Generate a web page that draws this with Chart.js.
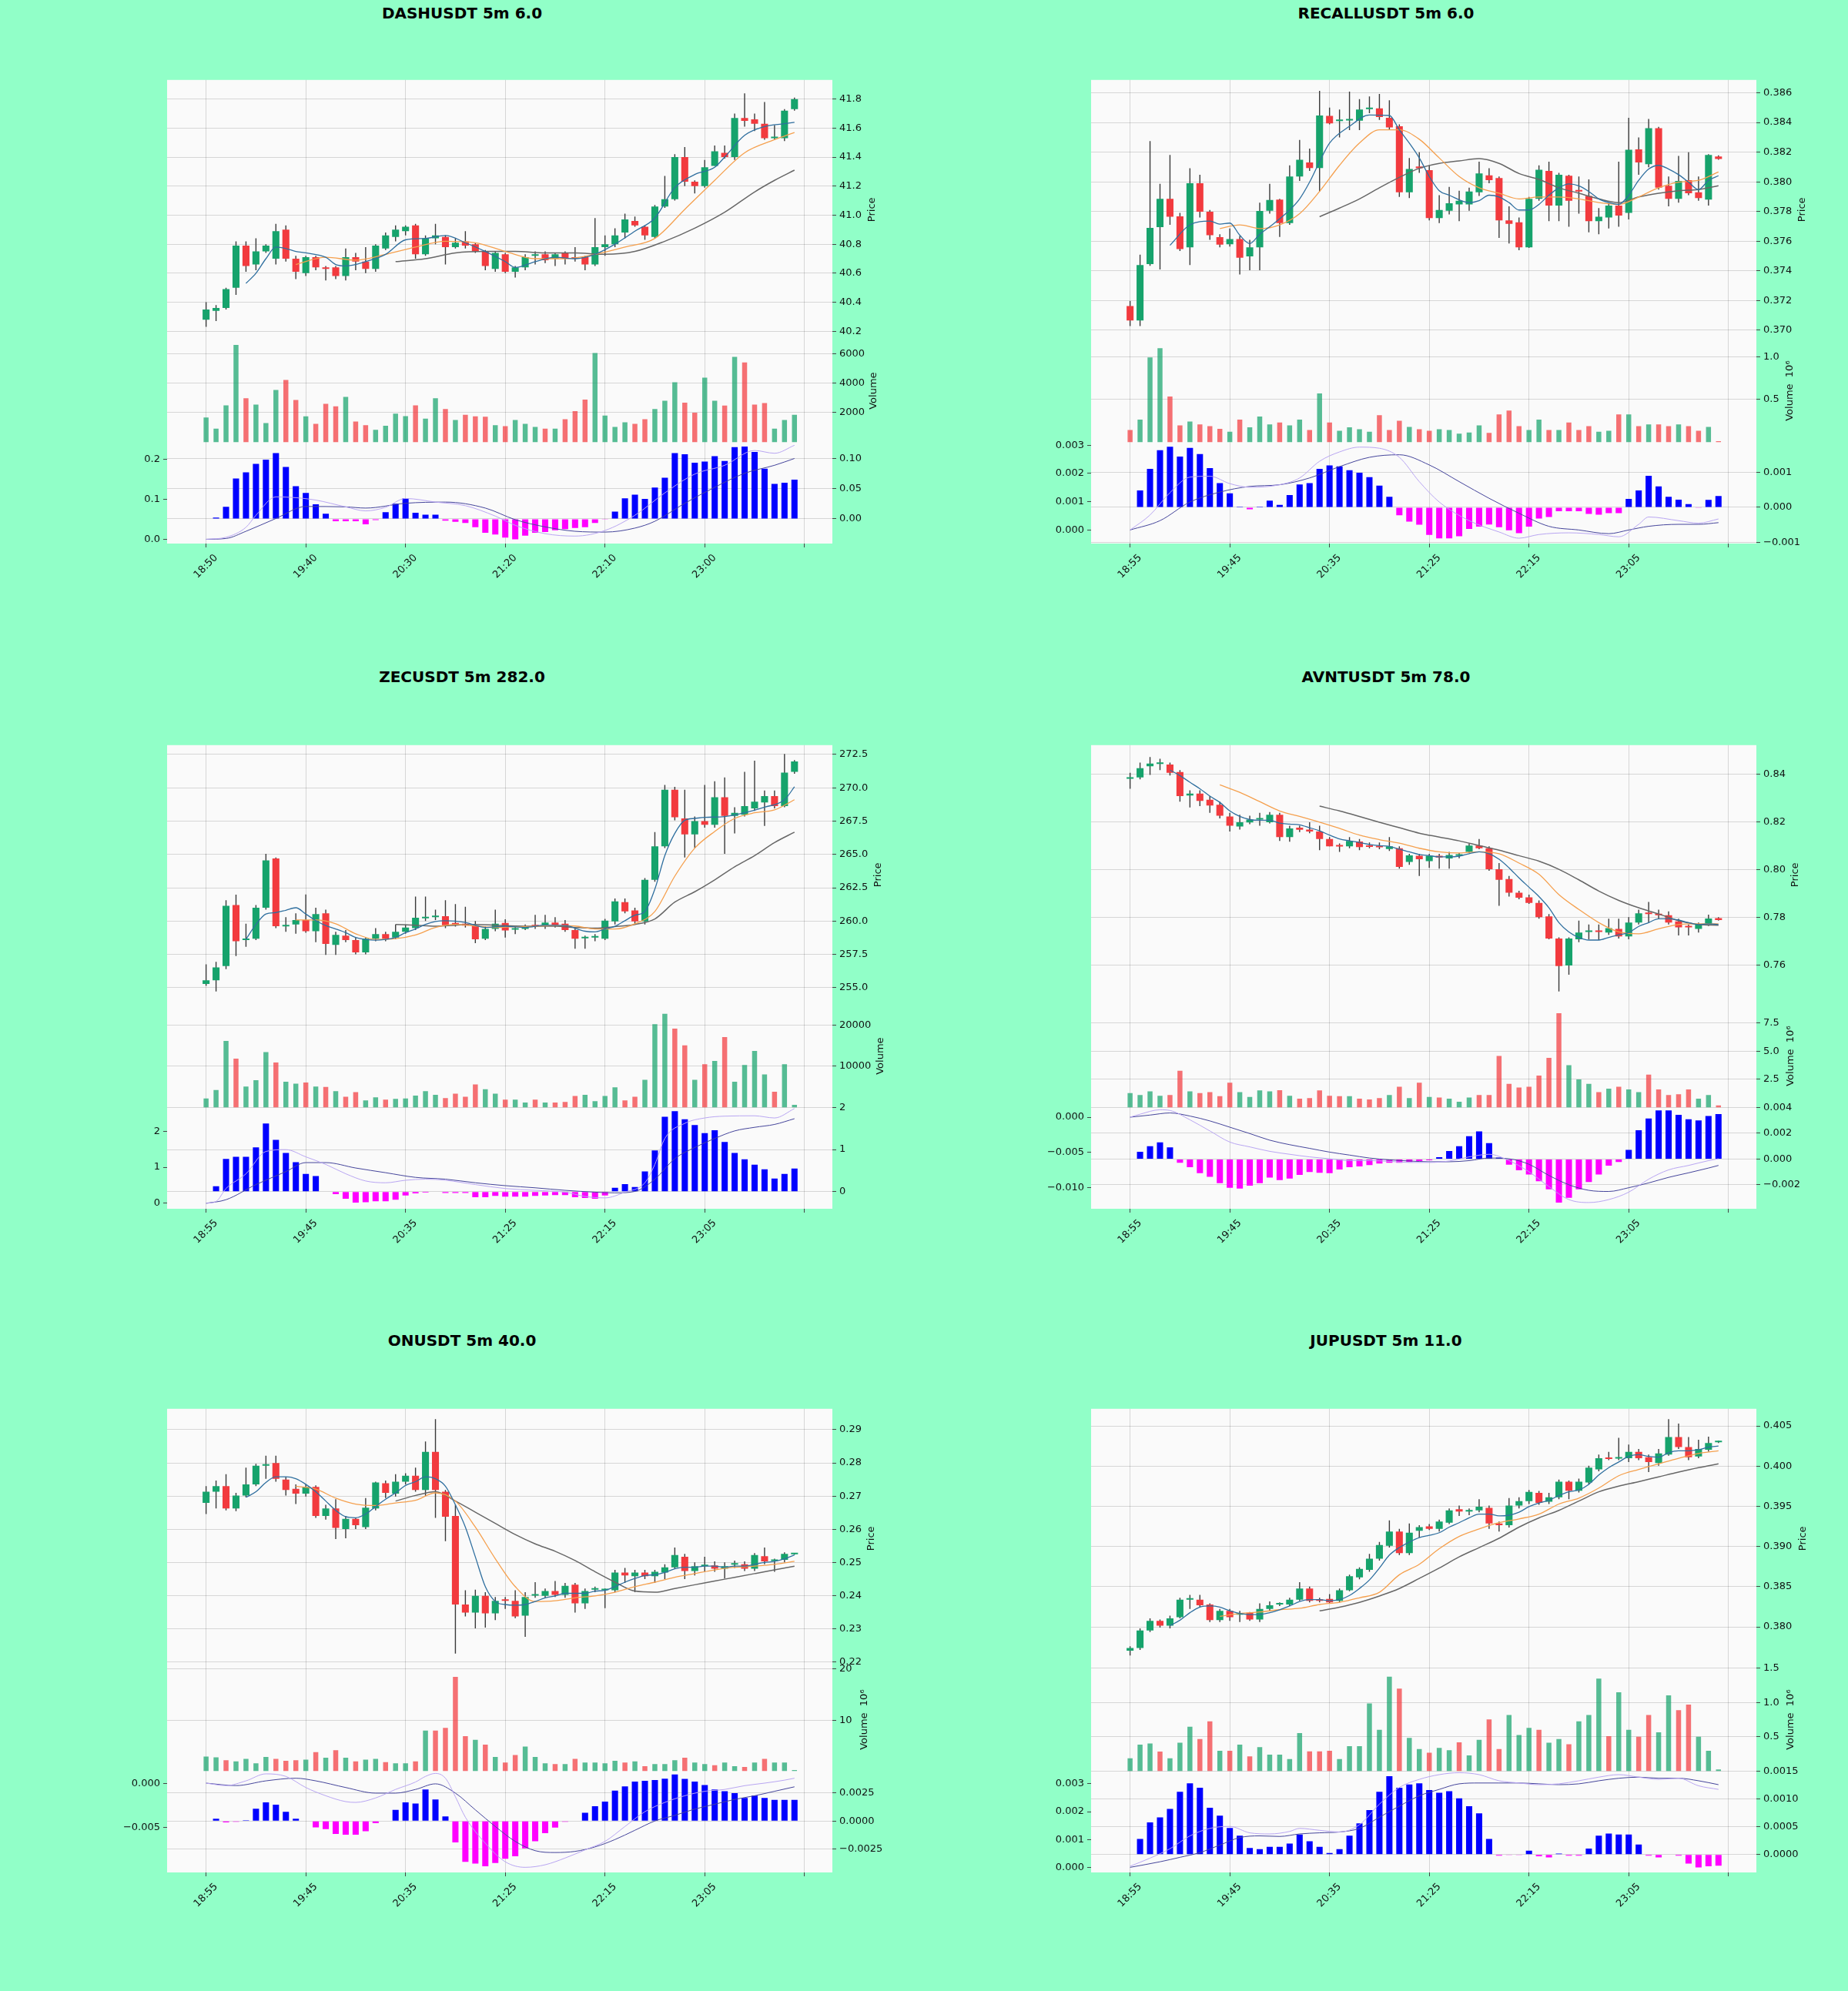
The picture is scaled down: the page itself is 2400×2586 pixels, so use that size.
<!DOCTYPE html>
<html>
<head>
<meta charset="utf-8">
<script src="https://cdn.jsdelivr.net/npm/chart.js@4.4.1/dist/chart.umd.min.js"></script>
<style>
  html, body { margin: 0; padding: 0; }
  body { width: 2400px; height: 2586px; background: #91ffc8; position: relative; overflow: hidden; font-family: "DejaVu Sans", sans-serif; }
  .title { position: absolute; transform: translate(-50%, -50%); font-weight: bold; font-size: 20px; white-space: nowrap; color: #000; }
  canvas { position: absolute; }
</style>
</head>
<body>
<script>
// time labels every 10 candles (5m bars)
const timeTicksA = ['18:50', '19:40', '20:30', '21:20', '22:10', '23:00', ''];
const timeTicksB = ['18:55', '19:45', '20:35', '21:25', '22:15', '23:05', ''];

// ---------- DASHUSDT ----------  candles are [open, high, low, close]
const dashCandles = [
  [40.28,40.40,40.23,40.35],[40.34,40.38,40.27,40.36],[40.36,40.50,40.35,40.49],[40.50,40.82,40.45,40.79],
  [40.79,40.82,40.61,40.65],[40.66,40.84,40.62,40.75],[40.75,40.80,40.74,40.79],[40.70,40.94,40.66,40.89],
  [40.90,40.93,40.68,40.70],[40.70,40.72,40.56,40.61],[40.60,40.72,40.58,40.71],[40.71,40.72,40.62,40.64],
  [40.64,40.65,40.55,40.63],[40.64,40.65,40.56,40.58],[40.58,40.77,40.55,40.71],[40.71,40.74,40.62,40.68],
  [40.68,40.78,40.60,40.63],[40.63,40.80,40.61,40.79],[40.77,40.88,40.76,40.86],[40.85,40.93,40.82,40.90],
  [40.89,40.93,40.86,40.92],[40.93,40.94,40.70,40.73],[40.73,40.86,40.72,40.84],[40.84,40.94,40.80,40.86],
  [40.85,40.86,40.66,40.78],[40.78,40.84,40.77,40.81],[40.82,40.89,40.77,40.79],[40.80,40.81,40.74,40.75],
  [40.75,40.76,40.62,40.65],[40.63,40.75,40.61,40.74],[40.73,40.74,40.60,40.61],[40.61,40.65,40.57,40.64],
  [40.64,40.73,40.62,40.71],[40.72,40.75,40.66,40.73],[40.73,40.75,40.67,40.69],[40.70,40.74,40.65,40.73],
  [40.74,40.75,40.66,40.70],[40.71,40.78,40.68,40.70],[40.71,40.72,40.62,40.66],[40.66,40.98,40.65,40.78],
  [40.78,40.86,40.72,40.80],[40.80,40.91,40.78,40.86],[40.88,41.01,40.84,40.97],[40.96,40.99,40.92,40.93],
  [40.92,40.93,40.83,40.86],[40.85,41.07,40.84,41.06],[41.06,41.27,41.05,41.11],[41.11,41.42,41.10,41.40],
  [41.40,41.47,41.20,41.23],[41.23,41.24,41.15,41.20],[41.20,41.38,41.19,41.33],[41.34,41.48,41.34,41.44],
  [41.43,41.48,41.39,41.40],[41.40,41.70,41.38,41.67],[41.67,41.84,41.61,41.65],[41.66,41.70,41.58,41.63],
  [41.63,41.78,41.52,41.53],[41.53,41.62,41.52,41.54],[41.53,41.73,41.51,41.72],[41.73,41.81,41.72,41.80]
];
const dashVolume = [1670,920,2500,6580,2980,2550,1300,3540,4210,2860,1750,1250,2600,2430,3060,1400,1150,840,1120,1930,
  1770,2500,1600,2980,2250,1500,1850,1750,1720,1150,1090,1500,1250,1040,920,920,1550,2100,2880,6030,
  1800,1040,1350,1250,1550,2250,2810,4060,2680,2000,4370,2810,2480,5770,5400,2550,2650,920,1500,1850];
const dashHist = [null,0.002,0.020,0.067,0.077,0.091,0.098,0.109,0.086,0.054,0.043,0.024,0.0086,-0.004,-0.004,-0.004,-0.009,-0.002,0.011,0.025,
  0.034,0.010,0.007,0.007,-0.003,-0.005,-0.007,-0.014,-0.023,-0.026,-0.031,-0.034,-0.028,-0.023,-0.022,-0.019,-0.017,-0.015,-0.014,-0.007,
  -0.001,0.012,0.034,0.040,0.033,0.052,0.068,0.109,0.107,0.093,0.095,0.104,0.096,0.119,0.120,0.111,0.083,0.058,0.060,0.065];
const dashMacd = [[0,0],[2,0.005],[4,0.03],[5,0.06],[7,0.106],[9,0.104],[11,0.098],[14,0.081],[16,0.071],[18,0.08],[20,0.102],[23,0.093],
  [26,0.084],[29,0.058],[31,0.035],[34,0.014],[37,0.008],[40,0.022],[43,0.06],[46,0.116],[49,0.163],[52,0.185],[55,0.222],[57,0.215],[59,0.235]];
const dashSignal = [[0,0],[2,0.002],[4,0.02],[7,0.052],[10,0.082],[14,0.081],[16,0.078],[20,0.09],[24,0.093],[28,0.078],[31,0.049],
  [34,0.031],[37,0.02],[40,0.018],[43,0.028],[45,0.045],[48,0.09],[51,0.13],[54,0.165],[57,0.185],[59,0.202]];
const dashMa5 = [[4,40.53],[5,40.60],[6,40.70],[7,40.78],[8,40.77],[9,40.75],[10,40.74],[12,40.71],[13,40.66],[14,40.65],[16,40.68],[18,40.73],
  [20,40.83],[22,40.84],[24,40.86],[26,40.81],[28,40.75],[30,40.68],[31,40.64],[33,40.68],[35,40.71],[37,40.70],[39,40.73],[41,40.80],
  [43,40.89],[45,40.98],[47,41.19],[49,41.28],[51,41.33],[52,41.40],[54,41.55],[56,41.61],[58,41.63],[59,41.64]];
const dashMa10 = [[9,40.66],[12,40.71],[15,40.69],[18,40.73],[21,40.78],[24,40.82],[27,40.81],[30,40.75],[33,40.70],[36,40.70],[39,40.73],
  [42,40.78],[45,40.84],[48,41.04],[51,41.24],[54,41.43],[57,41.52],[59,41.57]];
const dashMa20 = [[19,40.68],[22,40.70],[25,40.74],[28,40.75],[31,40.75],[34,40.74],[37,40.74],[40,40.73],[43,40.75],[46,40.82],[49,40.91],
  [52,41.02],[55,41.16],[57,41.24],[59,41.31]];
const dashPriceTicks = ['40.2','40.4','40.6','40.8','41.0','41.2','41.4','41.6','41.8'];
const dashVolumeTicks = ['2000','4000','6000'];
const dashMacdTicks = ['0.00','0.05','0.10'];
const dashMacdLeftTicks = ['0.0','0.1','0.2'];

// ---------- RECALLUSDT ----------
const recallCandles = [
  [0.37163,0.37196,0.37028,0.37065],[0.37065,0.37509,0.37028,0.37439],[0.37446,0.38274,0.37434,0.37690],[0.37695,0.37986,0.37409,0.37885],
  [0.37885,0.38181,0.37710,0.37765],[0.37767,0.37790,0.37534,0.37547],[0.37559,0.38091,0.37439,0.37991],[0.37991,0.38048,0.37760,0.37798],
  [0.37798,0.37810,0.37609,0.37640],[0.37627,0.37647,0.37559,0.37577],[0.37579,0.37685,0.37564,0.37614],[0.37614,0.37635,0.37376,0.37489],
  [0.37497,0.37609,0.37404,0.37559],[0.37559,0.37860,0.37404,0.37803],[0.37805,0.37986,0.37785,0.37878],[0.37880,0.37885,0.37629,0.37722],
  [0.37722,0.38111,0.37710,0.38036],[0.38036,0.38282,0.38006,0.38149],[0.38131,0.38224,0.38073,0.38093],[0.38093,0.38613,0.37935,0.38447],
  [0.38445,0.38500,0.38387,0.38394],[0.38410,0.38487,0.38299,0.38413],[0.38413,0.38608,0.38349,0.38418],[0.38412,0.38557,0.38349,0.38487],
  [0.38490,0.38575,0.38462,0.38492],[0.38495,0.38592,0.38417,0.38437],[0.38432,0.38550,0.38349,0.38367],[0.38374,0.38387,0.37898,0.37930],
  [0.37930,0.38161,0.37890,0.38086],[0.38103,0.38199,0.38061,0.38091],[0.38078,0.38111,0.37740,0.37755],[0.37755,0.37910,0.37722,0.37810],
  [0.37805,0.37966,0.37780,0.37855],[0.37848,0.37940,0.37735,0.37873],[0.37848,0.37960,0.37805,0.37935],[0.37930,0.38136,0.37905,0.38056],
  [0.38043,0.38091,0.37991,0.38011],[0.38026,0.38036,0.37622,0.37740],[0.37740,0.37835,0.37584,0.37717],[0.37727,0.37760,0.37539,0.37559],
  [0.37559,0.37898,0.37554,0.37885],[0.37885,0.38111,0.37873,0.38081],[0.38073,0.38136,0.37735,0.37840],[0.37840,0.38061,0.37735,0.38048],
  [0.38041,0.38048,0.37697,0.37873],[0.37942,0.38036,0.37785,0.37935],[0.37905,0.38016,0.37660,0.37735],[0.37735,0.37823,0.37647,0.37765],
  [0.37760,0.37860,0.37685,0.37840],[0.37840,0.38136,0.37697,0.37772],[0.37790,0.38432,0.37747,0.38216],[0.38219,0.38299,0.38048,0.38131],
  [0.38119,0.38424,0.38098,0.38362],[0.38362,0.38370,0.37948,0.37960],[0.37973,0.38036,0.37835,0.37885],[0.37885,0.38174,0.37860,0.38006],
  [0.38011,0.38199,0.37910,0.37923],[0.37930,0.38036,0.37873,0.37890],[0.37880,0.38186,0.37840,0.38181],[0.38171,0.38179,0.38149,0.38154]
];
const recallVolume = [0.143,0.265,0.991,1.100,0.535,0.196,0.243,0.209,0.187,0.157,0.122,0.265,0.174,0.300,0.209,0.230,0.196,0.265,0.143,0.570,
  0.230,0.135,0.174,0.152,0.122,0.317,0.143,0.252,0.178,0.152,0.135,0.152,0.143,0.100,0.113,0.196,0.109,0.326,0.370,0.187,
  0.143,0.265,0.143,0.143,0.230,0.143,0.187,0.122,0.135,0.326,0.326,0.187,0.209,0.209,0.187,0.209,0.187,0.135,0.178,0.013];
const recallHist = [null,0.00048,0.00110,0.00163,0.00173,0.00145,0.00170,0.00152,0.00112,0.00069,0.00040,0.00002,-0.00006,0.00002,0.00019,0.00007,0.00035,0.00065,0.00069,0.00110,
  0.00120,0.00117,0.00106,0.00099,0.00086,0.00062,0.00030,-0.00023,-0.00041,-0.00050,-0.00079,-0.00089,-0.00089,-0.00083,-0.00062,-0.00055,-0.00049,-0.00057,-0.00066,-0.00074,
  -0.00055,-0.00032,-0.00028,-0.00011,-0.00011,-0.00011,-0.00019,-0.00021,-0.00017,-0.00017,0.00024,0.00048,0.00090,0.00060,0.00030,0.00022,0.00009,-0.00002,0.00021,0.00032];
const recallMacd = [[0,0],[2,0.00053],[4,0.00132],[6,0.00187],[8,0.0019],[10,0.00164],[12,0.00151],[15,0.0016],[17,0.00184],[19,0.00243],
  [21,0.00276],[23,0.00293],[25,0.00289],[27,0.00257],[29,0.00171],[31,0.00099],[34,0.00033],[37,-0.00007],[39,-0.00029],[41,-0.00016],
  [44,-0.0001],[47,-0.00016],[49,-0.00024],[51,0.0002],[52,0.00046],[55,0.00033],[57,0.00024],[59,0.00039]];
const recallSignal = [[0,0],[3,0.00033],[6,0.00099],[9,0.00134],[12,0.00154],[15,0.0016],[18,0.00184],[21,0.00224],[24,0.00257],[27,0.00266],
  [30,0.0023],[33,0.00171],[36,0.00112],[39,0.00059],[42,0.00013],[45,0],[48,-0.00013],[50,0],[52,0.00013],[55,0.0002],[57,0.0002],[59,0.00026]];
const recallMa5 = [[4,0.37572],[6,0.3771],[8,0.37735],[9,0.37715],[10,0.37722],[11,0.3764],[12,0.37584],[13,0.37647],[14,0.37697],[16,0.3781],
  [17,0.37885],[18,0.37998],[19,0.38136],[20,0.38261],[22,0.38374],[24,0.3845],[26,0.38447],[27,0.3835],[28,0.38261],[29,0.38161],[30,0.38036],
  [31,0.3794],[32,0.3791],[34,0.3786],[35,0.37873],[36,0.3791],[37,0.37898],[38,0.3786],[39,0.3781],[40,0.3781],[41,0.37848],[42,0.3791],
  [43,0.3796],[44,0.37986],[45,0.37973],[46,0.37935],[47,0.37885],[48,0.3786],[49,0.37848],[50,0.3791],[51,0.3801],[52,0.38086],[53,0.38111],
  [54,0.38086],[55,0.38048],[56,0.37998],[57,0.37948],[58,0.3801],[59,0.38041]];
const recallMa10 = [[9,0.37685],[11,0.3771],[13,0.37685],[15,0.3771],[17,0.37785],[19,0.37935],[21,0.38111],[23,0.38261],[25,0.3835],[27,0.3835],
  [29,0.38287],[31,0.38161],[33,0.38036],[35,0.3796],[37,0.37923],[39,0.37885],[41,0.37898],[43,0.37898],[45,0.37885],[47,0.3786],[49,0.37848],
  [51,0.37898],[53,0.3796],[55,0.37998],[57,0.3801],[59,0.38066]];
const recallMa20 = [[19,0.37765],[21,0.37823],[23,0.37885],[25,0.3796],[27,0.3803],[29,0.38091],[31,0.38124],[33,0.38141],[35,0.38156],[37,0.38124],
  [39,0.38056],[41,0.38016],[43,0.3796],[45,0.37923],[47,0.37885],[49,0.3786],[51,0.37898],[53,0.37923],[55,0.3794],[57,0.37948],[59,0.37973]];
const recallPriceTicks = ['0.370','0.372','0.374','0.376','0.378','0.380','0.382','0.384','0.386'];
const recallVolumeTicks = ['0.5','1.0'];
const recallMacdTicks = ['\u22120.001','0.000','0.001'];
const recallMacdLeftTicks = ['0.000','0.001','0.002','0.003'];

// ---------- ZECUSDT ----------
const zecCandles = [
  [255.28,256.76,255.14,255.56],[255.56,256.95,254.72,256.53],[256.62,261.56,256.40,261.14],[261.20,261.98,257.37,258.49],
  [258.57,259.80,258.07,258.68],[258.68,261.20,258.57,261.00],[261.00,265.05,260.86,264.55],[264.69,264.77,259.47,259.61],
  [259.60,260.30,259.19,259.70],[259.75,260.58,259.05,260.08],[260.08,262.00,259.13,259.24],[259.24,261.00,258.41,260.53],
  [260.58,260.86,257.46,258.29],[258.21,259.19,257.46,258.96],[258.91,259.33,258.41,258.57],[258.57,258.77,257.51,257.65],
  [257.65,258.77,257.51,258.68],[258.68,259.47,258.49,259.02],[259.02,259.19,258.49,258.68],[258.77,259.75,258.63,259.19],
  [259.19,259.75,259.05,259.52],[259.47,261.84,259.33,260.25],[260.20,261.84,260.00,260.30],[260.30,260.86,260.08,260.33],
  [260.36,261.56,259.47,259.69],[259.86,261.28,259.58,259.72],[259.80,261.08,259.52,259.66],[259.66,260.00,258.35,258.63],
  [258.68,259.61,258.57,259.41],[259.41,260.86,259.24,259.80],[259.86,260.14,258.77,259.30],[259.36,259.61,259.02,259.41],
  [259.41,259.75,259.33,259.61],[259.61,260.47,259.41,259.60],[259.61,260.47,259.41,259.89],[259.89,260.30,259.52,259.69],
  [259.80,260.08,259.19,259.33],[259.33,259.47,257.93,258.68],[258.70,258.91,257.93,258.77],[258.77,259.02,258.49,258.82],
  [258.68,260.16,258.57,260.03],[259.97,261.70,259.75,261.48],[261.42,261.70,260.58,260.72],[260.80,261.00,259.75,259.97],
  [259.97,263.23,259.75,263.09],[263.09,266.67,262.95,265.61],[265.61,270.21,265.47,269.85],[269.85,270.07,267.56,267.78],
  [267.70,269.85,264.77,266.50],[266.50,267.84,265.47,267.50],[267.50,270.21,267.00,267.22],[267.22,270.49,267.00,269.29],
  [269.29,270.77,265.05,267.89],[267.89,268.54,266.58,268.12],[267.98,271.19,267.84,268.62],[268.45,272.03,268.26,268.96],
  [268.90,269.79,267.14,269.38],[269.38,269.79,268.45,268.62],[268.62,272.53,268.54,271.13],[271.19,272.08,271.05,271.97]
];
const zecVolume = [2160,4230,16130,11800,5050,6580,13420,10900,6220,5770,6040,5050,4960,3960,2610,3690,1710,2430,1890,2070,
  2160,2880,3960,3060,2250,3330,2610,5590,4410,3330,1890,1890,1170,1890,1170,1170,1350,2790,3060,1530,
  2790,4870,1710,2610,6670,20180,22700,19100,15050,6670,10450,11260,17030,6220,10270,13690,8020,3780,10450,630];
const zecHist = [null,0.13,0.78,0.83,0.83,1.05,1.62,1.23,0.92,0.70,0.42,0.37,null,-0.06,-0.17,-0.26,-0.25,-0.23,-0.23,-0.19,
  -0.09,-0.04,-0.02,-0.01,-0.03,-0.03,-0.03,-0.13,-0.13,-0.10,-0.12,-0.12,-0.12,-0.10,-0.09,-0.08,-0.08,-0.13,-0.15,-0.17,
  -0.09,0.09,0.18,0.11,0.48,0.98,1.78,1.91,1.72,1.58,1.39,1.46,1.18,0.92,0.77,0.64,0.53,0.31,0.42,0.55];
const zecMacd = [[0,0],[1,0.05],[2,0.41],[4,0.82],[6,1.44],[8,1.49],[10,1.29],[12,1.08],[14,0.82],[16,0.62],[18,0.57],[20,0.64],[22,0.67],
  [24,0.64],[27,0.52],[30,0.41],[33,0.36],[36,0.31],[38,0.19],[40,0.15],[42,0.31],[44,0.57],[45,1.08],[46,1.8],[48,2.22],[50,2.37],
  [52,2.42],[55,2.43],[57,2.37],[59,2.63]];
const zecSignal = [[0,0],[2,0.1],[5,0.52],[8,0.88],[10,1.13],[12,1.13],[15,0.98],[18,0.85],[21,0.72],[24,0.67],[27,0.57],[30,0.49],
  [33,0.43],[36,0.36],[39,0.31],[41,0.29],[43,0.33],[45,0.67],[47,1.24],[49,1.55],[51,1.8],[53,2.01],[55,2.11],[57,2.19],[59,2.35]];
const zecMa5 = [[4,258.63],[5,259.75],[6,260.53],[7,260.64],[8,260.81],[9,261.0],[10,260.53],[11,260.03],[12,259.66],[13,259.41],[14,259.13],
  [15,258.77],[16,258.63],[17,258.57],[18,258.63],[19,258.77],[20,259.13],[21,259.41],[22,259.75],[23,259.97],[24,260.03],[26,259.89],
  [28,259.52],[30,259.61],[32,259.52],[34,259.69],[36,259.66],[38,259.24],[39,259.19],[40,259.41],[41,259.61],[42,260.03],[43,260.44],
  [44,260.72],[45,262.4],[46,264.91],[47,266.58],[48,267.56],[49,267.7],[50,267.78],[52,267.84],[54,268.12],[56,268.54],[58,269.1],[59,270.07]];
const zecMa10 = [[9,260.08],[11,260.08],[13,259.8],[15,259.05],[17,258.63],[19,258.68],[21,258.96],[23,259.52],[25,259.75],[27,259.63],
  [29,259.52],[31,259.58],[33,259.61],[35,259.66],[37,259.63],[39,259.41],[41,259.41],[43,259.8],[45,260.72],[47,263.37],[49,265.47],
  [51,266.72],[53,267.7],[55,268.12],[57,268.34],[59,269.1]];
const zecMa20 = [[19,259.75],[21,259.69],[23,259.61],[25,259.69],[27,259.75],[29,259.69],[31,259.63],[33,259.61],[35,259.61],[37,259.52],
  [39,259.47],[41,259.58],[43,259.75],[45,260.16],[47,261.42],[49,262.2],[51,263.09],[53,264.07],[55,264.91],[57,265.89],[59,266.67]];
const zecPriceTicks = ['255.0','257.5','260.0','262.5','265.0','267.5','270.0','272.5'];
const zecVolumeTicks = ['10000','20000'];
const zecMacdTicks = ['0','1','2'];
const zecMacdLeftTicks = ['0','1','2'];

// ---------- AVNTUSDT ----------
const avntCandles = [
  [0.8381,0.8406,0.8339,0.8386],[0.8386,0.8448,0.8378,0.8425],[0.8433,0.8472,0.8397,0.8444],[0.8443,0.8464,0.8417,0.8445],
  [0.8440,0.8448,0.8394,0.8406],[0.8409,0.8417,0.8285,0.8308],[0.8311,0.8332,0.8261,0.8319],[0.8319,0.8332,0.8266,0.8288],
  [0.8293,0.8308,0.8238,0.8269],[0.8272,0.8285,0.8215,0.8226],[0.8223,0.8238,0.8160,0.8184],[0.8181,0.8230,0.8168,0.8199],
  [0.8198,0.8226,0.8191,0.8210],[0.8210,0.8238,0.8184,0.8211],[0.8199,0.8241,0.8194,0.8230],[0.8230,0.8238,0.8121,0.8137],
  [0.8137,0.8184,0.8117,0.8173],[0.8176,0.8184,0.8158,0.8167],[0.8168,0.8199,0.8153,0.8160],[0.8160,0.8184,0.8082,0.8129],
  [0.8129,0.8137,0.8098,0.8098],[0.8098,0.8110,0.8075,0.8097],[0.8098,0.8137,0.8090,0.8121],[0.8118,0.8129,0.8082,0.8095],
  [0.8098,0.8114,0.8090,0.8096],[0.8095,0.8114,0.8086,0.8094],[0.8087,0.8137,0.8079,0.8098],[0.8090,0.8098,0.8005,0.8012],
  [0.8033,0.8067,0.8021,0.8060],[0.8059,0.8067,0.7974,0.8044],[0.8036,0.8067,0.8008,0.8059],[0.8059,0.8067,0.8005,0.8051],
  [0.8047,0.8075,0.8005,0.8062],[0.8059,0.8070,0.8048,0.8060],[0.8075,0.8110,0.8070,0.8101],[0.8101,0.8129,0.8086,0.8090],
  [0.8090,0.8098,0.7996,0.8002],[0.8002,0.8028,0.7849,0.7958],[0.7961,0.7974,0.7888,0.7904],[0.7904,0.7912,0.7877,0.7883],
  [0.7885,0.7896,0.7857,0.7861],[0.7861,0.7872,0.7795,0.7802],[0.7805,0.7815,0.7709,0.7712],[0.7712,0.7717,0.7491,0.7597],
  [0.7600,0.7717,0.7561,0.7712],[0.7709,0.7787,0.7697,0.7737],[0.7740,0.7771,0.7709,0.7741],[0.7741,0.7771,0.7706,0.7740],
  [0.7737,0.7795,0.7728,0.7756],[0.7753,0.7795,0.7712,0.7721],[0.7721,0.7802,0.7709,0.7779],[0.7779,0.7833,0.7771,0.7818],
  [0.7816,0.7865,0.7779,0.7815],[0.7811,0.7833,0.7795,0.7810],[0.7810,0.7826,0.7771,0.7779],[0.7784,0.7795,0.7725,0.7759],
  [0.7760,0.7771,0.7725,0.7759],[0.7753,0.7779,0.7737,0.7771],[0.7771,0.7812,0.7765,0.7796],[0.7798,0.7802,0.7787,0.7790]
];
const avntVolume = [1.27,1.11,1.44,1.04,1.11,3.26,1.44,1.27,1.37,1.01,2.20,1.37,0.94,1.51,1.44,1.54,1.04,0.78,0.84,1.51,
  1.04,1.01,1.01,0.78,0.71,0.84,1.11,1.84,0.84,2.20,0.94,0.88,0.78,0.51,0.88,1.11,1.11,4.59,2.10,1.77,
  1.84,2.83,4.42,8.39,3.76,2.50,2.10,1.37,1.67,1.84,1.61,1.37,2.93,1.61,1.11,1.18,1.61,0.78,1.11,0.18];
const avntHist = [null,0.00057,0.0010,0.00129,0.00091,-0.00029,-0.00063,-0.00109,-0.00137,-0.00186,-0.00223,-0.00229,-0.00206,-0.00186,-0.00143,-0.00163,-0.00151,-0.00123,-0.0010,-0.00106,
  -0.00109,-0.0008,-0.00063,-0.00057,-0.00046,-0.00034,-0.00029,-0.00029,-0.00023,-0.00017,-0.00009,0.00014,0.00063,0.0010,0.00177,0.00214,0.00123,0.00011,-0.00043,-0.00086,
  -0.0012,-0.00171,-0.00234,-0.00337,-0.0030,-0.00234,-0.00177,-0.0012,-0.00051,-0.00023,0.00071,0.00223,0.00314,0.00377,0.00377,0.00343,0.00309,0.0030,0.00334,0.00349];
const avntMacd = [[0,0],[1,0.00042],[3,0.00105],[4,0.00095],[6,-0.00037],[8,-0.00195],[10,-0.00353],[12,-0.00421],[14,-0.00484],[16,-0.00526],
  [18,-0.00563],[20,-0.00589],[22,-0.00616],[24,-0.00616],[26,-0.00626],[28,-0.00642],[30,-0.00642],[32,-0.00621],[34,-0.00563],[36,-0.00526],
  [38,-0.00616],[40,-0.00774],[42,-0.00984],[44,-0.01168],[46,-0.0121],[48,-0.01168],[50,-0.01063],[52,-0.00879],[54,-0.00747],[56,-0.00684],
  [58,-0.00616],[59,-0.00589]];
const avntSignal = [[0,0],[2,0.0003],[4,0.0006],[6,0.00016],[8,-0.00053],[10,-0.00142],[12,-0.00232],[14,-0.00326],[16,-0.0039],[18,-0.00442],
  [20,-0.00495],[22,-0.00537],[24,-0.00579],[26,-0.00605],[28,-0.00621],[30,-0.00632],[32,-0.00632],[34,-0.00616],[36,-0.00579],[38,-0.0059],
  [40,-0.00668],[42,-0.00826],[44,-0.00958],[46,-0.01037],[48,-0.01053],[50,-0.01],[52,-0.00932],[54,-0.00853],[56,-0.00789],[58,-0.00721],[59,-0.00684]];
const avntMa5 = [[4,0.8417],[5,0.8394],[6,0.8366],[7,0.8339],[8,0.8308],[9,0.8282],[10,0.8246],[11,0.8223],[12,0.821],[13,0.8207],[14,0.8207],
  [15,0.8195],[16,0.8191],[17,0.8188],[18,0.8176],[19,0.8163],[20,0.8145],[21,0.8129],[22,0.8121],[23,0.8114],[24,0.8106],[25,0.8101],
  [26,0.8098],[27,0.8086],[28,0.8075],[29,0.8064],[30,0.8059],[31,0.8054],[32,0.8054],[33,0.8057],[34,0.8067],[35,0.8075],[36,0.8067],
  [37,0.8044],[38,0.8008],[39,0.7966],[40,0.7927],[41,0.7888],[42,0.7841],[43,0.7779],[44,0.774],[45,0.7717],[46,0.7706],[47,0.7706],
  [48,0.7717],[49,0.7728],[50,0.7737],[51,0.7763],[52,0.7779],[53,0.7795],[54,0.7795],[55,0.779],[56,0.7779],[57,0.7771],[58,0.7774],[59,0.7771]];
const avntMa10 = [[9,0.8355],[11,0.8324],[13,0.8285],[15,0.8246],[17,0.8223],[19,0.8199],[21,0.8173],[23,0.8145],[25,0.8126],[27,0.8111],
  [29,0.809],[31,0.8075],[33,0.807],[35,0.8075],[37,0.8067],[39,0.8028],[41,0.7981],[43,0.7896],[45,0.7834],[47,0.7779],[49,0.774],
  [51,0.7732],[53,0.7753],[55,0.7771],[57,0.7774],[59,0.7774]];
const avntMa20 = [[19,0.8266],[21,0.8246],[23,0.8223],[25,0.8199],[27,0.8176],[29,0.8153],[31,0.8137],[33,0.8121],[35,0.8101],[37,0.8082],
  [39,0.8059],[41,0.8036],[43,0.8002],[45,0.7958],[47,0.7911],[49,0.7872],[51,0.7841],[53,0.7815],[55,0.7787],[57,0.7771],[59,0.7768]];
const avntPriceTicks = ['0.76','0.78','0.80','0.82','0.84'];
const avntVolumeTicks = ['2.5','5.0','7.5'];
const avntMacdTicks = ['\u22120.002','0.000','0.002','0.004'];
const avntMacdLeftTicks = ['\u22120.010','\u22120.005','0.000'];

// ---------- ONUSDT ----------
const onCandles = [
  [0.26794,0.27298,0.26458,0.27130],[0.27130,0.27466,0.26626,0.27298],[0.27298,0.27656,0.26570,0.26626],[0.26626,0.27096,0.26548,0.27018],
  [0.27018,0.27858,0.26962,0.27354],[0.27354,0.27970,0.27298,0.27914],[0.27914,0.28216,0.27522,0.27925],[0.27992,0.28216,0.27432,0.27522],
  [0.27499,0.27578,0.27018,0.27186],[0.27219,0.27354,0.26760,0.27074],[0.27074,0.27354,0.26984,0.27275],[0.27275,0.27320,0.26346,0.26402],
  [0.26402,0.26738,0.26290,0.26626],[0.26626,0.26906,0.25707,0.26043],[0.26010,0.26402,0.25730,0.26312],[0.26312,0.26346,0.26010,0.26122],
  [0.26066,0.26939,0.26010,0.26648],[0.26626,0.27432,0.26570,0.27410],[0.27387,0.27466,0.26939,0.27096],[0.27074,0.27656,0.26984,0.27432],
  [0.27432,0.27690,0.27354,0.27611],[0.27611,0.27858,0.27130,0.27186],[0.27186,0.28642,0.27000,0.28328],[0.28328,0.29314,0.26346,0.27186],
  [0.27130,0.27186,0.25640,0.26379],[0.26402,0.26738,0.22258,0.23736],[0.23736,0.24162,0.23378,0.23490],[0.23490,0.24184,0.23019,0.23994],
  [0.23994,0.24106,0.23042,0.23467],[0.23467,0.23960,0.23266,0.23848],[0.23882,0.23960,0.23602,0.23848],[0.23848,0.24162,0.23322,0.23378],
  [0.23400,0.24106,0.22762,0.23960],[0.24000,0.24408,0.23938,0.24030],[0.23994,0.24218,0.23938,0.24139],[0.24139,0.24442,0.23960,0.24027],
  [0.24027,0.24386,0.23938,0.24296],[0.24330,0.24386,0.23490,0.23770],[0.23770,0.24218,0.23602,0.24139],[0.24184,0.24274,0.24106,0.24195],
  [0.24162,0.24218,0.23624,0.24162],[0.24162,0.24778,0.24106,0.24699],[0.24699,0.24834,0.24386,0.24610],[0.24587,0.24778,0.24106,0.24699],
  [0.24699,0.24778,0.24498,0.24587],[0.24587,0.24778,0.24386,0.24722],[0.24699,0.24946,0.24498,0.24856],[0.24856,0.25450,0.24812,0.25226],
  [0.25170,0.25259,0.24498,0.24744],[0.24744,0.25002,0.24610,0.24890],[0.24890,0.25170,0.24722,0.24923],[0.24912,0.25035,0.24722,0.24811],
  [0.24811,0.25002,0.24520,0.24890],[0.24934,0.25058,0.24834,0.24946],[0.24946,0.25035,0.24744,0.24811],[0.24811,0.25282,0.24744,0.25226],
  [0.25192,0.25450,0.24946,0.25035],[0.25046,0.25114,0.24722,0.25058],[0.25080,0.25304,0.25002,0.25259],[0.25248,0.25282,0.25237,0.25259]
];
const onVolume = [2.85,2.70,2.12,1.90,2.41,1.53,2.77,2.41,2.04,2.12,2.26,3.72,2.63,4.09,2.63,1.90,2.26,2.41,1.75,1.53,
  1.53,1.90,7.96,7.96,8.47,18.47,6.86,6.13,5.18,2.77,1.68,3.14,4.82,2.77,1.53,1.39,1.39,2.41,1.68,1.68,
  1.53,2.04,1.68,1.90,0.95,1.39,1.39,2.12,2.63,1.68,1.39,1.17,1.68,0.95,0.80,1.68,2.41,1.68,1.68,0.22];
const onHist = [null,0.0002,-0.00013,-0.00007,0.00007,0.0011,0.00167,0.00147,0.00083,0.0002,null,-0.00057,-0.00073,-0.00117,-0.00123,-0.00123,-0.00093,-0.0002,0.00003,0.001,
  0.00167,0.00157,0.00283,0.00193,0.0004,-0.00193,-0.00367,-0.00383,-0.00407,-0.00377,-0.0034,-0.00317,-0.00247,-0.00183,-0.0011,-0.0006,-0.00007,0.00003,0.00073,0.00133,
  0.00173,0.00273,0.0031,0.00353,0.0036,0.00367,0.0038,0.00417,0.00377,0.00353,0.00323,0.00283,0.00267,0.0025,0.00207,0.00227,0.00207,0.0019,0.0019,0.0019];
const onMacd = [[0,0.00008],[2,-0.0002],[4,0.00034],[6,0.00114],[8,0.00085],[10,-0.00042],[12,-0.00136],[14,-0.00203],[15,-0.00212],[17,-0.00161],
  [19,-0.00064],[21,0.00021],[22,0.00085],[23,0.00119],[24,0.00064],[25,-0.00148],[26,-0.00381],[28,-0.00678],[30,-0.0089],[32,-0.00953],
  [34,-0.00924],[36,-0.00847],[38,-0.00754],[40,-0.00657],[42,-0.00487],[44,-0.00318],[46,-0.00212],[48,-0.00136],[50,-0.00085],[52,-0.00064],
  [54,-0.00021],[56,0.00008],[58,0.00042],[59,0.00064]];
const onSignal = [[0,0.00008],[3,-0.0002],[6,0.00034],[9,0.00064],[11,0.00034],[14,-0.00042],[17,-0.00106],[19,-0.00106],[21,-0.00064],[23,0],
  [25,-0.00106],[27,-0.00297],[29,-0.00487],[31,-0.00657],[33,-0.00763],[35,-0.00784],[37,-0.00771],[39,-0.0072],[41,-0.00636],[43,-0.0053],
  [45,-0.00424],[47,-0.0036],[49,-0.00288],[51,-0.00233],[53,-0.00178],[55,-0.00136],[57,-0.00085],[59,-0.00034]];
const onMa5 = [[4,0.26962],[5,0.2713],[6,0.2741],[7,0.27578],[8,0.27578],[9,0.27522],[10,0.27354],[11,0.2713],[12,0.2685],[13,0.2657],
  [14,0.26379],[15,0.26346],[16,0.26458],[17,0.26682],[18,0.26906],[19,0.27096],[20,0.2732],[21,0.27432],[22,0.27578],[23,0.27522],[24,0.27298],
  [25,0.26738],[26,0.26066],[27,0.2517],[28,0.24274],[29,0.23826],[30,0.23736],[31,0.23714],[32,0.23736],[33,0.23826],[34,0.23938],[35,0.23994],
  [36,0.24072],[37,0.24072],[38,0.24072],[39,0.24139],[40,0.24162],[41,0.24274],[42,0.24408],[43,0.2452],[44,0.2461],[45,0.24632],[46,0.247],
  [47,0.24812],[48,0.24856],[49,0.24856],[50,0.2489],[51,0.2489],[52,0.24856],[53,0.2489],[54,0.2489],[55,0.24946],[56,0.25002],[57,0.25035],
  [58,0.25114],[59,0.25226]];
const onMa10 = [[9,0.27298],[11,0.27208],[13,0.26939],[15,0.2676],[17,0.26715],[19,0.26794],[21,0.26872],[23,0.27096],[25,0.2685],[27,0.26066],
  [29,0.25114],[31,0.24274],[33,0.23826],[35,0.23848],[37,0.23938],[39,0.23994],[41,0.24106],[43,0.24274],[45,0.24408],[47,0.24554],[49,0.24666],
  [51,0.24778],[53,0.24856],[55,0.2489],[57,0.24946],[59,0.25035]];
const onMa20 = [[19,0.2685],[21,0.27018],[23,0.2713],[25,0.2685],[27,0.26514],[29,0.26178],[31,0.25842],[33,0.25562],[35,0.25338],[37,0.25058],
  [39,0.24722],[41,0.24408],[43,0.24139],[45,0.24106],[47,0.24218],[49,0.2433],[51,0.24442],[53,0.24554],[55,0.24666],[57,0.24778],[59,0.2489]];
const onPriceTicks = ['0.22','0.23','0.24','0.25','0.26','0.27','0.28','0.29'];
const onVolumeTicks = ['10','20'];
const onMacdTicks = ['\u22120.0025','0.0000','0.0025'];
const onMacdLeftTicks = ['\u22120.005','0.000'];

// ---------- JUPUSDT ----------
const jupCandles = [
  [0.37704,0.37759,0.37643,0.37736],[0.37736,0.37981,0.37713,0.37954],[0.37954,0.38106,0.37935,0.38074],[0.38074,0.38092,0.37991,0.38014],
  [0.38014,0.38139,0.37981,0.38106],[0.38120,0.38361,0.38106,0.38338],[0.38338,0.38398,0.38222,0.38345],[0.38338,0.38398,0.38245,0.38268],
  [0.38278,0.38292,0.38060,0.38083],[0.38083,0.38222,0.38060,0.38199],[0.38199,0.38222,0.38074,0.38120],[0.38152,0.38199,0.38060,0.38155],
  [0.38176,0.38185,0.38074,0.38092],[0.38092,0.38292,0.38060,0.38222],[0.38222,0.38315,0.38199,0.38268],[0.38278,0.38305,0.38259,0.38285],
  [0.38278,0.38361,0.38259,0.38338],[0.38338,0.38555,0.38324,0.38477],[0.38477,0.38500,0.38305,0.38324],[0.38338,0.38361,0.38305,0.38324],
  [0.38347,0.38407,0.38292,0.38305],[0.38324,0.38477,0.38305,0.38454],[0.38454,0.38648,0.38444,0.38629],[0.38616,0.38741,0.38592,0.38722],
  [0.38708,0.38907,0.38685,0.38847],[0.38847,0.39055,0.38824,0.39018],[0.39009,0.39324,0.38986,0.39185],[0.39185,0.39218,0.38893,0.38917],
  [0.38917,0.39287,0.38893,0.39171],[0.39194,0.39264,0.39111,0.39240],[0.39250,0.39278,0.39204,0.39218],[0.39218,0.39333,0.39185,0.39310],
  [0.39296,0.39472,0.39278,0.39449],[0.39463,0.39509,0.39380,0.39435],[0.39435,0.39472,0.39389,0.39438],[0.39449,0.39588,0.39426,0.39495],
  [0.39481,0.39509,0.39218,0.39287],[0.39287,0.39310,0.39185,0.39264],[0.39264,0.39602,0.39236,0.39509],[0.39509,0.39611,0.39472,0.39565],
  [0.39565,0.39704,0.39528,0.39680],[0.39667,0.39690,0.39519,0.39542],[0.39556,0.39667,0.39528,0.39611],[0.39611,0.39833,0.39588,0.39806],
  [0.39806,0.39819,0.39588,0.39694],[0.39694,0.39843,0.39671,0.39806],[0.39796,0.40004,0.39773,0.39981],[0.39958,0.40143,0.39935,0.40097],
  [0.40097,0.40176,0.40074,0.40088],[0.40093,0.40352,0.40074,0.40097],[0.40097,0.40268,0.40051,0.40176],[0.40176,0.40213,0.40074,0.40097],
  [0.40111,0.40143,0.39926,0.40051],[0.40037,0.40213,0.40004,0.40157],[0.40143,0.40583,0.40129,0.40361],[0.40361,0.40528,0.40213,0.40236],
  [0.40236,0.40361,0.40074,0.40111],[0.40120,0.40329,0.40097,0.40213],[0.40204,0.40366,0.40180,0.40287],[0.40296,0.40315,0.40287,0.40306]
];
const jupVolume = [0.186,0.386,0.403,0.284,0.186,0.414,0.646,0.468,0.727,0.295,0.295,0.386,0.214,0.349,0.241,0.241,0.176,0.554,0.289,0.289,
  0.295,0.176,0.365,0.365,0.986,0.603,1.376,1.203,0.484,0.322,0.268,0.338,0.305,0.419,0.230,0.457,0.754,0.322,0.819,0.527,
  0.630,0.603,0.414,0.468,0.392,0.727,0.819,1.349,0.511,1.149,0.603,0.500,0.819,0.565,1.106,0.889,0.970,0.500,0.295,0.024];
const jupHist = [null,0.00028,0.00058,0.00067,0.00082,0.00113,0.00128,0.0012,0.00084,0.0007,0.00048,0.00034,0.00012,0.0001,0.00014,0.00014,0.0002,0.00036,0.00024,0.00014,
  0.00003,0.0001,0.00034,0.00056,0.0008,0.00113,0.00141,0.0012,0.00126,0.00128,0.00116,0.00111,0.00114,0.00101,0.00087,0.00074,0.00028,-0.00002,-0.00001,-0.00001,
  0.00007,-0.00003,-0.00005,0.00002,-0.00002,-0.00002,0.00011,0.00034,0.00038,0.00036,0.00036,0.00018,-0.00002,-0.00005,null,-0.00002,-0.00016,-0.00023,-0.00021,-0.0002];
const jupMacd = [[0,0.00004],[2,0.00033],[4,0.00067],[6,0.00113],[8,0.0014],[10,0.00147],[12,0.00124],[14,0.0012],[16,0.00129],[17,0.0014],
  [19,0.00133],[21,0.00127],[23,0.00153],[25,0.00227],[27,0.00287],[29,0.00316],[31,0.00333],[33,0.0034],[35,0.00333],[37,0.00311],[39,0.00303],
  [41,0.00297],[43,0.003],[45,0.00311],[47,0.00324],[49,0.00333],[51,0.00324],[53,0.00316],[55,0.0032],[57,0.00293],[59,0.0028]];
const jupSignal = [[0,0],[3,0.0002],[5,0.00036],[7,0.00053],[9,0.0008],[11,0.00107],[13,0.00113],[15,0.00111],[17,0.0012],[19,0.00124],
  [21,0.00127],[23,0.0014],[25,0.0018],[27,0.0022],[29,0.00257],[31,0.0028],[33,0.003],[35,0.00303],[37,0.00303],[39,0.00303],[41,0.003],
  [43,0.00297],[45,0.003],[47,0.00311],[49,0.0032],[51,0.00324],[53,0.0032],[55,0.0032],[57,0.00311],[59,0.00297]];
const jupMa5 = [[4,0.38014],[5,0.38083],[6,0.38176],[7,0.38245],[8,0.38259],[9,0.38245],[10,0.38199],[11,0.38166],[12,0.38153],[13,0.38153],
  [14,0.38176],[15,0.38213],[16,0.38259],[17,0.38315],[18,0.38338],[19,0.38338],[20,0.38324],[21,0.38338],[22,0.3839],[23,0.38477],[24,0.38583],
  [25,0.38731],[26,0.38893],[27,0.38986],[28,0.39055],[29,0.39111],[30,0.39139],[31,0.39171],[32,0.39241],[33,0.39296],[34,0.39356],[35,0.39403],
  [36,0.39403],[37,0.3938],[38,0.39389],[39,0.39426],[40,0.39495],[41,0.39542],[42,0.39574],[43,0.39634],[44,0.3968],[45,0.39704],[46,0.39773],
  [47,0.39889],[48,0.39981],[49,0.40051],[50,0.4012],[51,0.40143],[52,0.4012],[53,0.40111],[54,0.40167],[55,0.4019],[56,0.4019],[57,0.40204],
  [58,0.40236],[59,0.4025]];
const jupMa10 = [[9,0.3813],[11,0.38166],[13,0.38185],[15,0.38213],[17,0.38231],[19,0.38278],[21,0.38305],[23,0.38361],[25,0.3843],[27,0.38648],
  [29,0.38778],[31,0.38972],[33,0.39125],[35,0.39218],[37,0.39296],[39,0.39343],[41,0.39403],[43,0.39528],[45,0.39602],[47,0.39727],[49,0.3988],
  [51,0.39958],[53,0.40028],[55,0.40097],[57,0.40157],[59,0.4019]];
const jupMa20 = [[19,0.38199],[21,0.38245],[23,0.38305],[25,0.38384],[27,0.38477],[29,0.38602],[31,0.38731],[33,0.3887],[35,0.38986],[37,0.39102],
  [39,0.39241],[41,0.39356],[43,0.39449],[45,0.39565],[47,0.3968],[49,0.3975],[51,0.39806],[53,0.39866],[55,0.39926],[57,0.39981],[59,0.40028]];
const jupPriceTicks = ['0.380','0.385','0.390','0.395','0.400','0.405'];
const jupVolumeTicks = ['0.5','1.0','1.5'];
const jupMacdTicks = ['0.0000','0.0005','0.0010','0.0015'];
const jupMacdLeftTicks = ['0.000','0.001','0.002','0.003'];

// ---------- layout / styling ----------
const panels = [
  { title: 'DASHUSDT 5m 6.0', col: 0, row: 0, times: timeTicksA, candles: dashCandles, volume: dashVolume, hist: dashHist,
    macd: dashMacd, signal: dashSignal, ma5: dashMa5, ma10: dashMa10, ma20: dashMa20,
    priceTicks: dashPriceTicks, volumeTicks: dashVolumeTicks, macdTicks: dashMacdTicks, macdLeftTicks: dashMacdLeftTicks,
    priceRange: [40.144, 41.932], volRange: [0, 6956], macdRange: [-0.041, 0.127], macdLeftRange: [-0.0107, 0.2426],
    volTitle: 'Volume', priceDx: 52, volDx: 54 },
  { title: 'RECALLUSDT 5m 6.0', col: 1, row: 0, times: timeTicksB, candles: recallCandles, volume: recallVolume, hist: recallHist,
    macd: recallMacd, signal: recallSignal, ma5: recallMa5, ma10: recallMa10, ma20: recallMa20,
    priceTicks: recallPriceTicks, volumeTicks: recallVolumeTicks, macdTicks: recallMacdTicks, macdLeftTicks: recallMacdLeftTicks,
    priceRange: [0.369381, 0.386868], volRange: [0, 1.202], macdRange: [-0.001037, 0.00186], macdLeftRange: [-0.00048, 0.003103],
    volTitle: 'Volume  10\u2076', priceDx: 60, volDx: 44 },
  { title: 'ZECUSDT 5m 282.0', col: 0, row: 1, times: timeTicksB, candles: zecCandles, volume: zecVolume, hist: zecHist,
    macd: zecMacd, signal: zecSignal, ma5: zecMa5, ma10: zecMa10, ma20: zecMa20,
    priceTicks: zecPriceTicks, volumeTicks: zecVolumeTicks, macdTicks: zecMacdTicks, macdLeftTicks: zecMacdLeftTicks,
    priceRange: [253.736, 273.198], volRange: [0, 24910], macdRange: [-0.406, 2.0], macdLeftRange: [-0.152, 2.662],
    volTitle: 'Volume', priceDx: 60, volDx: 63 },
  { title: 'AVNTUSDT 5m 78.0', col: 1, row: 1, times: timeTicksB, candles: avntCandles, volume: avntVolume, hist: avntHist,
    macd: avntMacd, signal: avntSignal, ma5: avntMa5, ma10: avntMa10, ma20: avntMa20,
    priceTicks: avntPriceTicks, volumeTicks: avntVolumeTicks, macdTicks: avntMacdTicks, macdLeftTicks: avntMacdLeftTicks,
    priceRange: [0.74361, 0.85214], volRange: [0, 9.155], macdRange: [-0.003849, 0.004], macdLeftRange: [-0.012984, 0.00138],
    volTitle: 'Volume  10\u2076', priceDx: 51, volDx: 45 },
  { title: 'ONUSDT 5m 40.0', col: 0, row: 2, times: timeTicksB, candles: onCandles, volume: onVolume, hist: onHist,
    macd: onMacd, signal: onSignal, ma5: onMa5, ma10: onMa10, ma20: onMa20,
    priceTicks: onPriceTicks, volumeTicks: onVolumeTicks, macdTicks: onMacdTicks, macdLeftTicks: onMacdLeftTicks,
    priceRange: [0.218174, 0.29627], volRange: [0, 20.18], macdRange: [-0.004623, 0.004477], macdLeftRange: [-0.010114, 0.001453],
    volTitle: 'Volume  10\u2076', priceDx: 51, volDx: 42 },
  { title: 'JUPUSDT 5m 11.0', col: 1, row: 2, times: timeTicksB, candles: jupCandles, volume: jupVolume, hist: jupHist,
    macd: jupMacd, signal: jupSignal, ma5: jupMa5, ma10: jupMa10, ma20: jupMa20,
    priceTicks: jupPriceTicks, volumeTicks: jupVolumeTicks, macdTicks: jupMacdTicks, macdLeftTicks: jupMacdLeftTicks,
    priceRange: [0.374847, 0.40713], volRange: [0, 1.5], macdRange: [-0.00032, 0.0015], macdLeftRange: [-0.000183, 0.003457],
    volTitle: 'Volume  10\u2076', priceDx: 61, volDx: 45 }
];

const colLefts = [217, 1417];
const rowTops = [102, 966, 1828];
const titleYs = [17, 879, 1741];
const PRICE_H = 338, VOL_H = 134, MACD_H = 132;   // sub-panel heights, px
const UP = '#16a36c', DOWN = '#f23a3e';
const GRID = 'rgba(0,0,0,0.14)';
const TICK_FONT = { family: 'DejaVu Sans', size: 13 };

const num = s => parseFloat(s.replace('\u2212', '-'));

function fixedTicks(labels) {
  return s => { s.ticks = labels.map(t => ({ value: num(t) })); };
}

// left-side boxes are sorted in reverse weight order by Chart.js, so the
// caller passes weights that put price on top and MACD at the bottom
function yAxis(pos, stack, weight, order, range, labels) {
  return {
    type: 'linear', position: pos, stack: stack, stackWeight: weight, weight: order,
    min: range[0], max: range[1],
    grid: { color: GRID, lineWidth: 1, tickLength: 5, tickColor: '#444', drawOnChartArea: pos === 'right' },
    border: { display: false },
    ticks: { font: TICK_FONT, color: '#111', padding: 4, autoSkip: false, callback: (v, i) => labels[i] },
    afterBuildTicks: fixedTicks(labels),
    afterFit: s => { s.width = pos === 'right' ? 80 : 60; }
  };
}

function spacer(weight, order) {
  return {
    type: 'linear', position: 'left', stack: 'l', stackWeight: weight, weight: order, min: 0, max: 1,
    grid: { display: false }, border: { display: false }, ticks: { display: false },
    afterFit: s => { s.width = 60; }
  };
}

function lineSet(points, color, width, axis) {
  return {
    type: 'line', yAxisID: axis, order: 0,
    data: points.map(p => ({ x: p[0], y: p[1] })),
    borderColor: color, borderWidth: width, pointRadius: 0, fill: false,
    cubicInterpolationMode: 'monotone'
  };
}

function decor(p) {
  return {
    id: 'decor',
    beforeDraw(chart) {
      const { ctx, chartArea: a } = chart;
      ctx.save();
      ctx.fillStyle = '#fafafa';
      ctx.fillRect(a.left, a.top, a.right - a.left, a.bottom - a.top);
      ctx.restore();
    },
    afterDraw(chart) {
      const { ctx, chartArea: a } = chart;
      const labels = [['yP', 'Price', p.priceDx], ['yV', p.volTitle, p.volDx]];
      ctx.save();
      ctx.font = '13px "DejaVu Sans"';
      ctx.fillStyle = '#111';
      ctx.textAlign = 'center';
      ctx.textBaseline = 'middle';
      for (const [id, text, dx] of labels) {
        const s = chart.scales[id];
        ctx.save();
        ctx.translate(a.right + dx, (s.top + s.bottom) / 2);
        ctx.rotate(-Math.PI / 2);
        ctx.fillText(text, 0, 0);
        ctx.restore();
      }
      ctx.restore();
    }
  };
}

function buildPanel(p) {
  const left = colLefts[p.col], top = rowTops[p.row];

  const t = document.createElement('div');
  t.className = 'title';
  t.textContent = p.title;
  t.style.left = (left + 383) + 'px';
  t.style.top = titleYs[p.row] + 'px';
  document.body.appendChild(t);

  const canvas = document.createElement('canvas');
  canvas.width = 1084; canvas.height = 704;
  canvas.style.left = (left - 100) + 'px';
  canvas.style.top = (top - 10) + 'px';
  canvas.style.width = '1084px'; canvas.style.height = '704px';
  document.body.appendChild(canvas);

  const up = p.candles.map(c => c[3] >= c[0]);
  const histPts = [];
  p.hist.forEach((v, i) => { if (v !== null) histPts.push({ x: i, y: v }); });

  new Chart(canvas.getContext('2d'), {
    type: 'bar',
    data: {
      datasets: [
        lineSet(p.ma5, '#2f6f9f', 1.3, 'yP'),
        lineSet(p.ma10, '#f5a04e', 1.3, 'yP'),
        lineSet(p.ma20, '#676767', 1.5, 'yP'),
        { type: 'bar', yAxisID: 'yP', order: 1, grouped: false, barPercentage: 0.7, categoryPercentage: 1, minBarLength: 2,
          data: p.candles.map((c, i) => ({ x: i, y: [c[0], c[3]] })),
          backgroundColor: up.map(u => u ? UP : DOWN) },
        { type: 'bar', yAxisID: 'yP', order: 2, grouped: false, barPercentage: 0.12, categoryPercentage: 1, maxBarThickness: 1.4,
          data: p.candles.map((c, i) => ({ x: i, y: [c[2], c[1]] })),
          backgroundColor: '#3a3a3a' },
        { type: 'bar', yAxisID: 'yV', order: 3, grouped: false, barPercentage: 0.5, categoryPercentage: 1,
          data: p.volume.map((v, i) => ({ x: i, y: v })),
          backgroundColor: up.map(u => u ? 'rgba(22,163,108,0.72)' : 'rgba(242,58,62,0.72)') },
        lineSet(p.macd, '#b9a6f2', 1, 'yML'),
        lineSet(p.signal, '#45459b', 1, 'yML'),
        { type: 'bar', yAxisID: 'yM', order: 3, grouped: false, barPercentage: 0.62, categoryPercentage: 1,
          data: histPts,
          backgroundColor: histPts.map(h => h.y >= 0 ? '#0000ff' : '#ff00ff') }
      ]
    },
    options: {
      responsive: false, maintainAspectRatio: false, animation: false, devicePixelRatio: 1,
      layout: { padding: { left: 40, right: 40, top: 10, bottom: 20 } },
      plugins: { legend: { display: false }, tooltip: { enabled: false }, title: { display: false } },
      scales: {
        x: {
          type: 'linear', position: 'bottom', min: -3.91, max: 62.8, offset: false,
          grid: { color: GRID, lineWidth: 1, offset: false, tickLength: 5, tickColor: '#444' },
          border: { display: false },
          ticks: { font: TICK_FONT, color: '#111', autoSkip: false, minRotation: 45, maxRotation: 45,
                   labelOffset: 13, padding: 6, callback: (v, i) => p.times[i] },
          afterBuildTicks: s => { s.ticks = [0, 10, 20, 30, 40, 50, 60].map(v => ({ value: v })); },
          afterFit: s => { s.height = 70; }
        },
        yP: yAxis('right', 'r', PRICE_H, 0, p.priceRange, p.priceTicks),
        yV: yAxis('right', 'r', VOL_H, 1, p.volRange, p.volumeTicks),
        yM: yAxis('right', 'r', MACD_H, 2, p.macdRange, p.macdTicks),
        yPL: spacer(PRICE_H, 2),
        yVL: spacer(VOL_H, 1),
        yML: yAxis('left', 'l', MACD_H, 0, p.macdLeftRange, p.macdLeftTicks)
      }
    },
    plugins: [decor(p)]
  });
}

panels.forEach(buildPanel);
</script>
</body>
</html>
